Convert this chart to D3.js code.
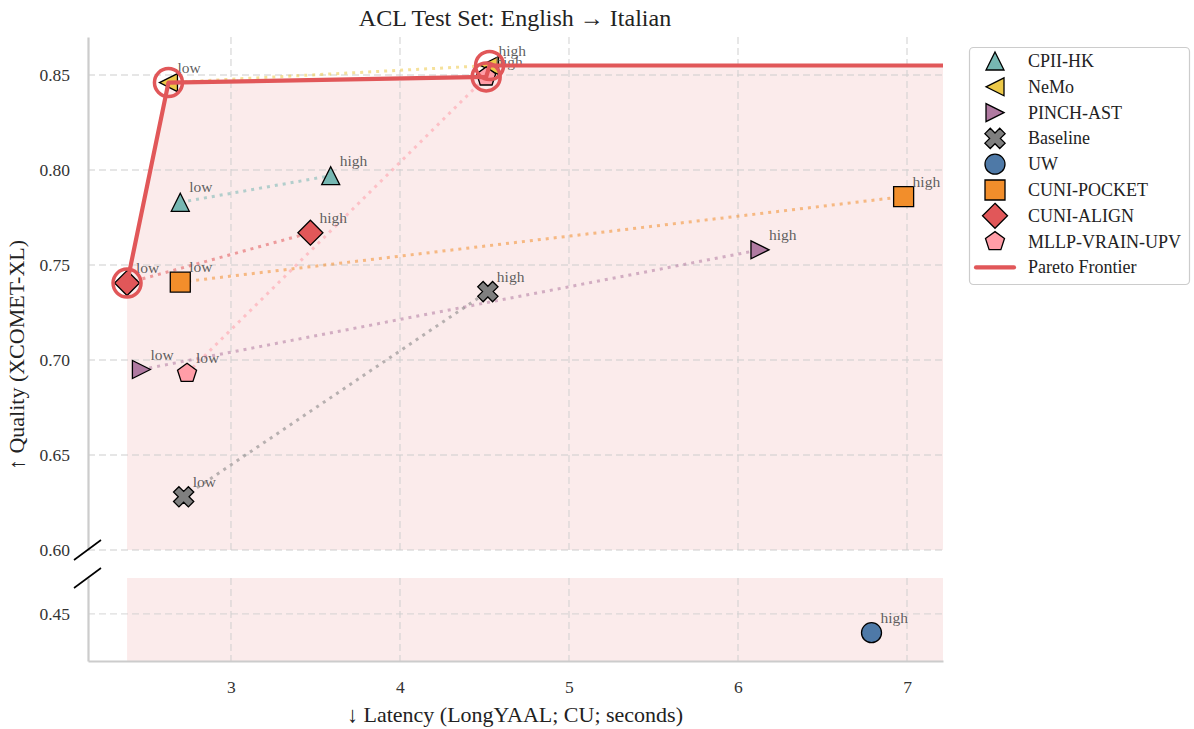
<!DOCTYPE html>
<html>
<head>
<meta charset="utf-8">
<script src="https://cdn.jsdelivr.net/npm/d3@7"></script>
<style>
  html, body { margin: 0; padding: 0; background: #fff; }
  svg { display: block; }
  text { font-family: "Liberation Serif", "Times New Roman", serif; }
</style>
</head>
<body>
<svg id="chart" width="1194" height="729"></svg>
<script>
// Systems and their low / high latency operating points
const systems = ["CPII-HK", "NeMo", "PINCH-AST", "Baseline", "UW", "CUNI-POCKET", "CUNI-ALIGN", "MLLP-VRAIN-UPV"];
const colors = ["#76b7b2", "#edc948", "#b07aa1", "#7f7f7f", "#4e79a7", "#f28e2b", "#e15759", "#ff9da7"];
const shapes = ["triangleUp", "triangleLeft", "triangleRight", "x", "circle", "square", "diamond", "pentagon"];
const lowLatency  = [2.70, 2.63, 2.47, 2.72, null, 2.70, 2.385, 2.74];
const lowQuality  = [0.783, 0.846, 0.695, 0.628, null, 0.741, 0.7405, 0.693];
const highLatency = [3.59, 4.53, 6.13, 4.52, 6.79, 6.98, 3.47, 4.51];
const highQuality = [0.797, 0.855, 0.758, 0.736, 0.440, 0.786, 0.767, 0.849];

const xTicks = [3, 4, 5, 6, 7];
const yTicksTop = [0.60, 0.65, 0.70, 0.75, 0.80, 0.85];
const yTicksBottom = [0.45];

const paretoColor = "#e15759";

const svg = d3.select("#chart");

// Broken y axis: upper panel for the main cluster, lower panel for outliers
const x = d3.scaleLinear().domain([2.154, 7.213]).range([88, 943]);
const yTop = d3.scaleLinear().domain([0.60, 0.87]).range([550, 37]);
const yBot = d3.scaleLinear().domain([0.425, 0.469]).range([661, 578]);
const yFor = v => (v >= 0.60 ? yTop(v) : yBot(v));

// Collect points
const points = [];
systems.forEach((s, i) => {
  if (lowLatency[i] != null) points.push({ sys: i, level: "low", lat: lowLatency[i], q: lowQuality[i] });
  if (highLatency[i] != null) points.push({ sys: i, level: "high", lat: highLatency[i], q: highQuality[i] });
});

// Pareto frontier: lower latency and higher quality
const sorted = points.slice().sort((a, b) => a.lat - b.lat);
const frontier = [];
let best = -Infinity;
sorted.forEach(p => { if (p.q > best) { frontier.push(p); best = p.q; } });
const xMin = frontier[0].lat;
const xMax = x.domain()[1];

// Shaded dominated region
const topArea = d3.area()
  .x(d => x(d[0]))
  .y0(yTop(0.60))
  .y1(d => yTop(d[1]));
const frontierTop = frontier.filter(p => p.q >= 0.60).map(p => [p.lat, p.q]);
frontierTop.push([xMax, best]);
svg.append("path")
  .attr("d", topArea(frontierTop))
  .attr("fill", paretoColor).attr("fill-opacity", 0.12);
svg.append("rect")
  .attr("x", x(xMin)).attr("y", yBot.range()[1])
  .attr("width", x(xMax) - x(xMin))
  .attr("height", yBot.range()[0] - yBot.range()[1])
  .attr("fill", paretoColor).attr("fill-opacity", 0.12);

// Grid
const grid = svg.append("g")
  .attr("stroke", "#cfcfcf").attr("stroke-opacity", 0.7)
  .attr("stroke-width", 1.4).attr("stroke-dasharray", "7,4");
xTicks.forEach(t => {
  grid.append("line").attr("x1", x(t)).attr("x2", x(t)).attr("y1", yTop.range()[1]).attr("y2", yTop.range()[0]);
  grid.append("line").attr("x1", x(t)).attr("x2", x(t)).attr("y1", yBot.range()[1]).attr("y2", yBot.range()[0]);
});
yTicksTop.forEach(t => grid.append("line").attr("x1", x.range()[0]).attr("x2", x.range()[1]).attr("y1", yTop(t)).attr("y2", yTop(t)));
yTicksBottom.forEach(t => grid.append("line").attr("x1", x.range()[0]).attr("x2", x.range()[1]).attr("y1", yBot(t)).attr("y2", yBot(t)));

// Axes (spines only, no tick marks)
const axTop = svg.append("g").attr("transform", `translate(${x.range()[0]},0)`)
  .call(d3.axisLeft(yTop).tickValues(yTicksTop).tickFormat(d3.format(".2f")).tickSize(0).tickPadding(18));
const axBot = svg.append("g").attr("transform", `translate(${x.range()[0]},0)`)
  .call(d3.axisLeft(yBot).tickValues(yTicksBottom).tickFormat(d3.format(".2f")).tickSize(0).tickPadding(18));
const axX = svg.append("g").attr("transform", `translate(0,${yBot.range()[0]})`)
  .call(d3.axisBottom(x).tickValues(xTicks).tickFormat(d3.format("d")).tickSize(0).tickPadding(20));
[axTop, axBot, axX].forEach(g => {
  g.select(".domain").attr("stroke", "#cccccc").attr("stroke-width", 2.2);
  g.selectAll("text").attr("fill", "#333").attr("font-family", "'Liberation Serif', serif").attr("font-size", 17.5);
});

// Break marks between the panels
const brk = svg.append("g").attr("stroke", "#000").attr("stroke-width", 1.6);
[yTop.range()[0], yBot.range()[1]].forEach(yy => {
  brk.append("line").attr("x1", x.range()[0] - 14).attr("y1", yy + 10).attr("x2", x.range()[0] + 13).attr("y2", yy - 10);
});

// Marker shapes
function markerPath(shape) {
  const p = d3.path();
  const poly = pts => { p.moveTo(pts[0][0], pts[0][1]); pts.slice(1).forEach(q => p.lineTo(q[0], q[1])); p.closePath(); };
  if (shape === "triangleUp") poly([[0, -9], [9, 9], [-9, 9]]);
  else if (shape === "triangleLeft") poly([[-9, 0], [9, -9], [9, 9]]);
  else if (shape === "triangleRight") poly([[9, 0], [-9, 9], [-9, -9]]);
  else if (shape === "square") poly([[-10, -10], [10, -10], [10, 10], [-10, 10]]);
  else if (shape === "diamond") poly([[0, -12.5], [12.5, 0], [0, 12.5], [-12.5, 0]]);
  else if (shape === "circle") { p.arc(0, 0, 10, 0, 2 * Math.PI); p.closePath(); }
  else if (shape === "pentagon") {
    const pts = d3.range(5).map(k => { const a = -Math.PI / 2 + k * 2 * Math.PI / 5; return [10 * Math.cos(a), 10 * Math.sin(a)]; });
    poly(pts);
  } else if (shape === "x") {
    const L = 10.5, w = 3.8;
    const plus = [[-w, -L], [w, -L], [w, -w], [L, -w], [L, w], [w, w], [w, L], [-w, L], [-w, w], [-L, w], [-L, -w], [-w, -w]];
    const c = Math.SQRT1_2;
    poly(plus.map(([a, b]) => [a * c - b * c, a * c + b * c]));
  }
  return p.toString();
}

// Dotted connectors between low and high points
const conn = svg.append("g");
systems.forEach((s, i) => {
  if (lowLatency[i] == null || highLatency[i] == null) return;
  conn.append("line")
    .attr("x1", x(lowLatency[i])).attr("y1", yFor(lowQuality[i]))
    .attr("x2", x(highLatency[i])).attr("y2", yFor(highQuality[i]))
    .attr("stroke", colors[i]).attr("stroke-opacity", 0.55)
    .attr("stroke-width", 3).attr("stroke-dasharray", "3,5");
});

// Markers
svg.append("g").selectAll("path").data(points).join("path")
  .attr("d", d => markerPath(shapes[d.sys]))
  .attr("transform", d => `translate(${x(d.lat)},${yFor(d.q)})`)
  .attr("fill", d => colors[d.sys])
  .attr("stroke", "#000").attr("stroke-width", 1.3).attr("stroke-linejoin", "miter");

// Point labels
svg.append("g").selectAll("text").data(points).join("text")
  .attr("x", d => x(d.lat) + 9)
  .attr("y", d => yFor(d.q) - 10)
  .attr("font-size", 15.5).attr("fill", "#555").attr("fill-opacity", 0.95)
  .text(d => d.level);

// Frontier line and highlighted points
const line = d3.line().x(d => x(d[0])).y(d => yTop(d[1]));
svg.append("path")
  .attr("d", line(frontierTop))
  .attr("fill", "none").attr("stroke", paretoColor).attr("stroke-width", 4.2)
  .attr("stroke-linejoin", "round");
svg.append("g").selectAll("circle").data(frontier).join("circle")
  .attr("cx", d => x(d.lat)).attr("cy", d => yFor(d.q)).attr("r", 14)
  .attr("fill", "none").attr("stroke", paretoColor).attr("stroke-width", 3.5);

// Titles
svg.append("text").attr("x", 515).attr("y", 26).attr("text-anchor", "middle")
  .attr("font-size", 24).attr("fill", "#222").text("ACL Test Set: English → Italian");
svg.append("text").attr("x", 515).attr("y", 722).attr("text-anchor", "middle")
  .attr("font-size", 22).attr("fill", "#222").text("↓ Latency (LongYAAL; CU; seconds)");
svg.append("text").attr("transform", "translate(24,355) rotate(-90)").attr("text-anchor", "middle")
  .attr("font-size", 22).attr("fill", "#222").text("↑ Quality (XCOMET-XL)");

// Legend
const leg = svg.append("g");
leg.append("rect").attr("x", 969.5).attr("y", 47.5).attr("width", 220).attr("height", 237)
  .attr("rx", 4).attr("fill", "#fff").attr("stroke", "#cccccc").attr("stroke-width", 1.2);
const legItems = systems.map((s, i) => ({ label: s, i })).concat([{ label: "Pareto Frontier", i: -1 }]);
legItems.forEach((it, k) => {
  const cy = 61 + k * 25.8;
  if (it.i >= 0) {
    leg.append("path").attr("d", markerPath(shapes[it.i]))
      .attr("transform", `translate(995,${cy})`)
      .attr("fill", colors[it.i]).attr("stroke", "#000").attr("stroke-width", 1.3);
  } else {
    leg.append("line").attr("x1", 976).attr("x2", 1014).attr("y1", cy).attr("y2", cy)
      .attr("stroke", paretoColor).attr("stroke-width", 4.2).attr("stroke-linecap", "round");
  }
  leg.append("text").attr("x", 1028).attr("y", cy + 6).attr("font-size", 18).attr("fill", "#222").text(it.label);
});
</script>
</body>
</html>
